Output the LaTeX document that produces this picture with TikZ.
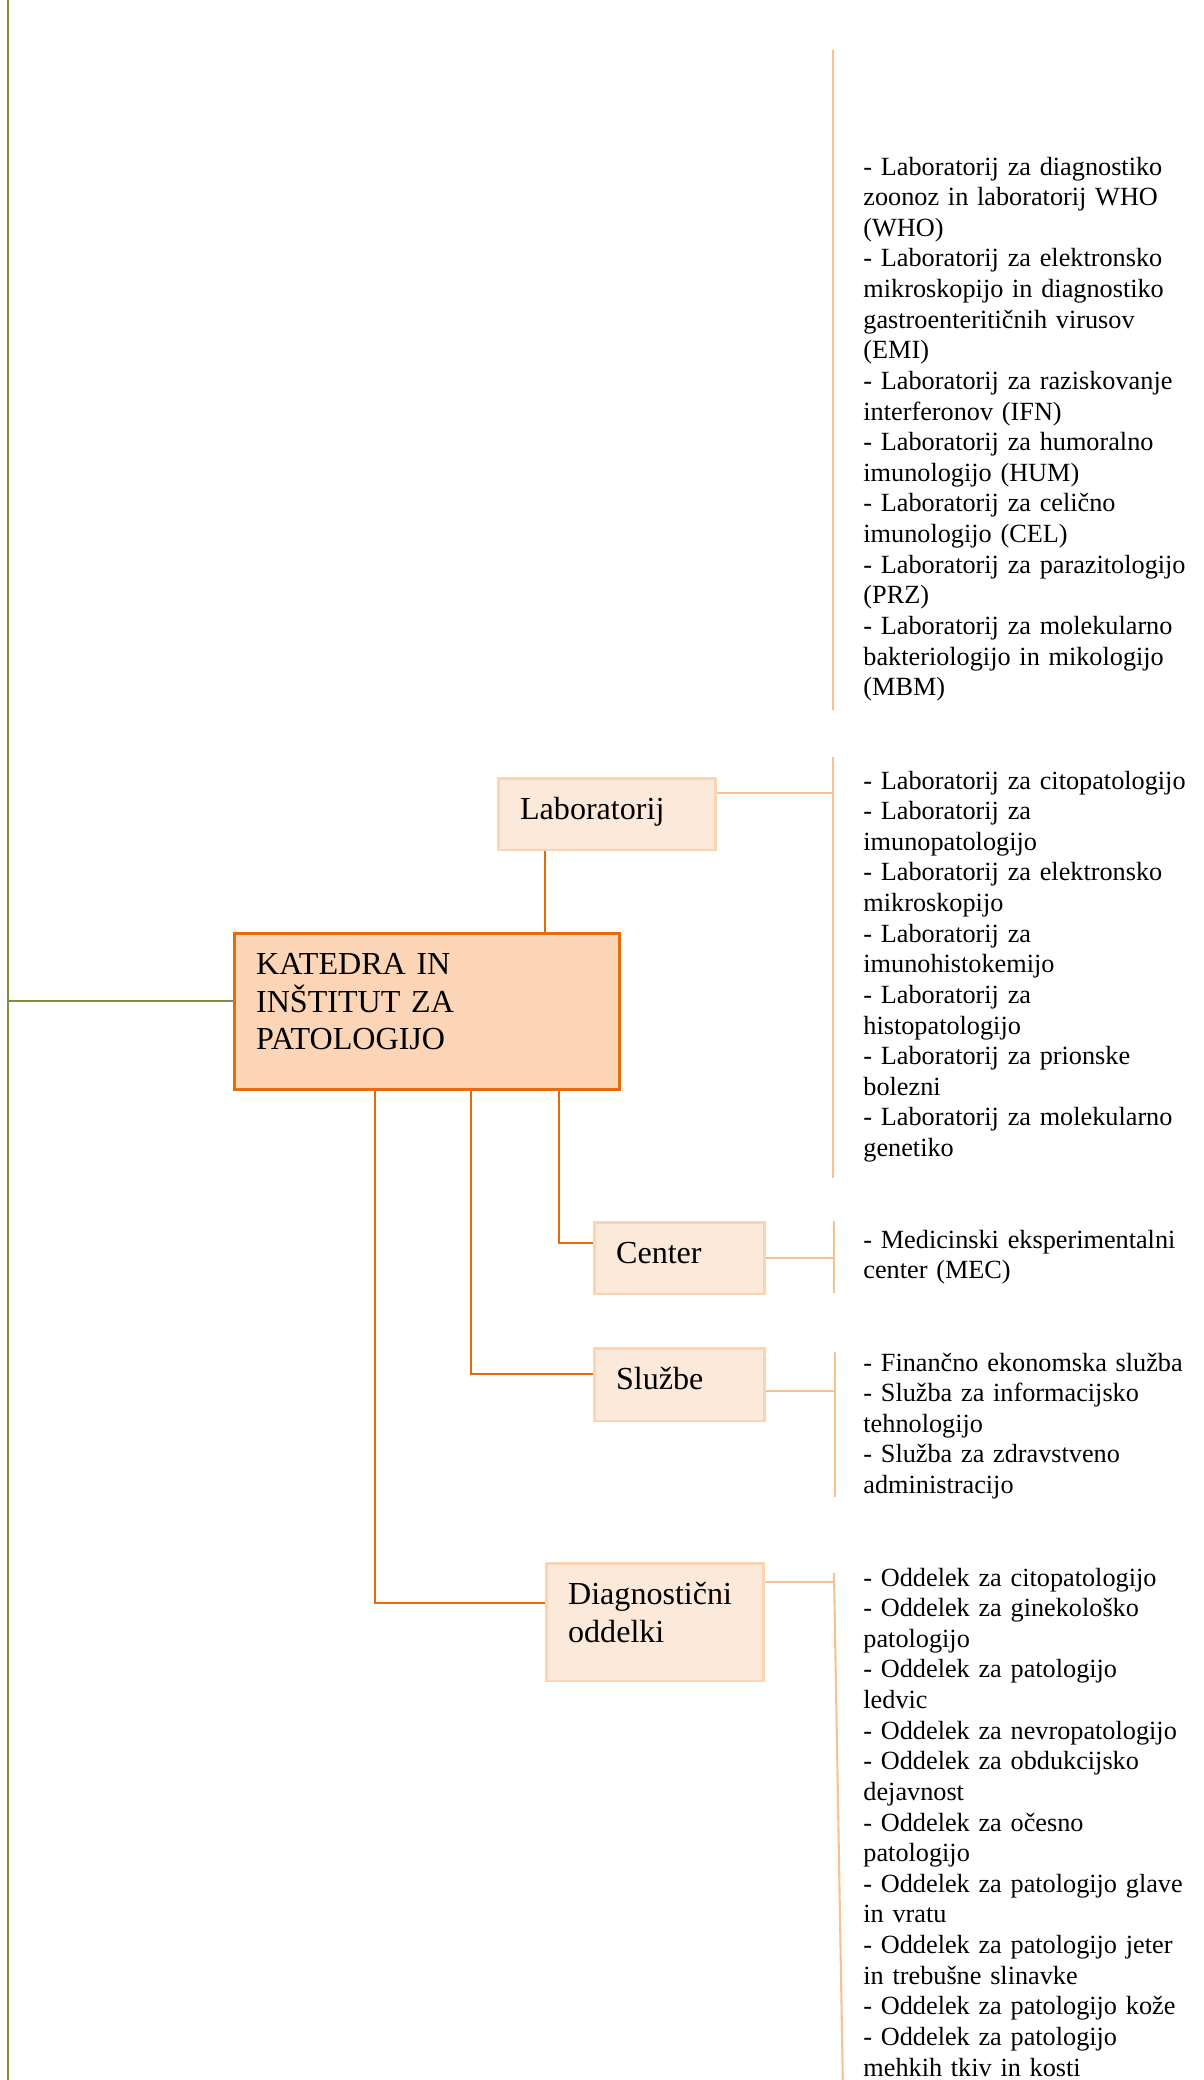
\documentclass[tikz,border=0pt]{standalone}
\usepackage{fontspec}
\setmainfont{Liberation Serif}
\usetikzlibrary{positioning,calc}

\definecolor{stemgreen}{HTML}{76923C}
\definecolor{deeporange}{HTML}{E46C0A}
\definecolor{peach}{HTML}{FBD5B5}
\definecolor{paleorange}{HTML}{FDE9D9}
\definecolor{unitline}{HTML}{FBD4B4}
\definecolor{lightorange}{HTML}{FAC090}

\begin{document}
\begin{tikzpicture}[x=0.48pt, y=-0.48pt,
    unit/.style={draw=unitline, fill=paleorange, line width=1.2pt, anchor=north west,
      align=left, inner xsep=10.5pt, inner ysep=0pt, text height=20pt,
      font=\fontsize{15.4}{17.8}\selectfont},
    entry/.style={anchor=base west, align=left, text width=175pt, inner sep=0pt,
      font=\fontsize{12.6}{14.7}\selectfont},
    trunk/.style={deeporange, line width=1pt},
    twig/.style={lightorange, line width=1pt},
    stem/.style={stemgreen, line width=1.2pt}]

    \useasboundingbox (0,0) rectangle (1203,2080);
    \clip (0,0) rectangle (1203,2080);

    % Main unit and its sub units
    \node[unit, draw=deeporange, fill=peach, text width=163.8pt, text depth=54.9pt]
        (katedra) at (233,932) {KATEDRA IN\\INŠTITUT ZA\\PATOLOGIJO};
    \node[unit, text width=83.2pt, text depth=14.5pt] (lab) at (497,777) {Laboratorij};
    \node[unit, text width=60.6pt, text depth=14.5pt] (center) at (593,1221) {Center};
    \node[unit, text width=60.6pt, text depth=15pt] (sluzbe) at (593,1347) {Službe};
    \node[unit, text width=83.2pt, text depth=36.6pt] (diag) at (545,1562) {Diagnostični\\oddelki};

    % Lists on the right
    \node[entry] (who-list) at (863,175) {- Laboratorij za diagnostiko\\zoonoz in laboratorij WHO\\(WHO)\\
        - Laboratorij za elektronsko\\mikroskopijo in diagnostiko\\gastroenteritičnih virusov\\(EMI)\\
        - Laboratorij za raziskovanje\\interferonov (IFN)\\
        - Laboratorij za humoralno\\imunologijo (HUM)\\
        - Laboratorij za celično\\imunologijo (CEL)\\
        - Laboratorij za parazitologijo\\(PRZ)\\
        - Laboratorij za molekularno\\bakteriologijo in mikologijo\\(MBM)};
    \node[entry] (lab-list) at (863,789) {- Laboratorij za citopatologijo\\
        - Laboratorij za\\imunopatologijo\\
        - Laboratorij za elektronsko\\mikroskopijo\\
        - Laboratorij za\\imunohistokemijo\\
        - Laboratorij za\\histopatologijo\\
        - Laboratorij za prionske\\bolezni\\
        - Laboratorij za molekularno\\genetiko};
    \node[entry] (center-list) at (863,1248) {- Medicinski eksperimentalni\\center (MEC)};
    \node[entry] (sluzbe-list) at (863,1371) {- Finančno ekonomska služba\\
        - Služba za informacijsko\\tehnologijo\\
        - Služba za zdravstveno\\administracijo};
    \node[entry] (diag-list) at (863,1586) {- Oddelek za citopatologijo\\
        - Oddelek za ginekološko\\patologijo\\
        - Oddelek za patologijo\\ledvic\\
        - Oddelek za nevropatologijo\\
        - Oddelek za obdukcijsko\\dejavnost\\
        - Oddelek za očesno\\patologijo\\
        - Oddelek za patologijo glave\\in vratu\\
        - Oddelek za patologijo jeter\\in trebušne slinavke\\
        - Oddelek za patologijo kože\\
        - Oddelek za patologijo\\mehkih tkiv in kosti};

    % Bracket lines beside the lists
    \coordinate (b1t) at (833,50);   \coordinate (b1b) at (833,710);
    \coordinate (b2t) at (833,757);  \coordinate (b2b) at (833,1178);
    \coordinate (b3t) at (834,1221); \coordinate (b3b) at (834,1293);
    \coordinate (b4t) at (835,1352); \coordinate (b4b) at (835,1497);
    \coordinate (b5t) at (834,1573); \coordinate (b5b) at (843,2090);
    \draw[twig] (b1t) -- (b1b);
    \draw[twig] (b2t) -- (b2b);
    \draw[twig] (b3t) -- (b3b);
    \draw[twig] (b4t) -- (b4b);
    \draw[twig] (b5t) -- (b5b);

    % Green stem on the left
    \coordinate (s0) at (8,0);
    \coordinate (s1) at (8,2080);
    \draw[stem] (s0) -- (s1);
    \draw[stem] (katedra.177) -- (katedra.177 -| s0);

    % Trunk lines from the main unit
    \draw[trunk] (lab.211) -- (lab.211 |- katedra.north);
    \draw[trunk] (katedra.-31) |- (center.170);
    \draw[trunk] (katedra.-61) |- (sluzbe.173);
    \draw[trunk] (katedra.237) |- (diag.170);

    % Twigs to the brackets
    \draw[twig] (lab.11) -- (lab.11 -| b2t);
    \draw[twig] (center.east) -- (center.east -| b3t);
    \draw[twig] (sluzbe.-4) -- (sluzbe.-4 -| b4t);
    \draw[twig] (diag.20) -- (diag.20 -| b5t);
\end{tikzpicture}
\end{document}
